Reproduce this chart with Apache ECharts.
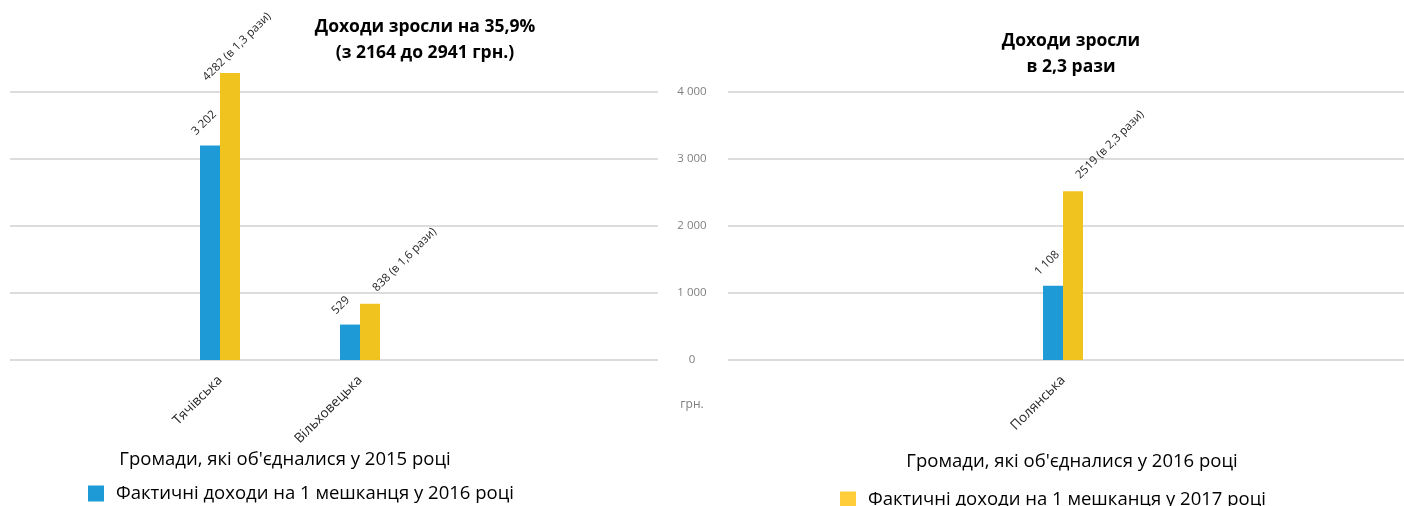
<!DOCTYPE html>
<html>
<head>
<meta charset="utf-8">
<script src="https://cdn.jsdelivr.net/npm/echarts@6/dist/echarts.min.js"></script>
<style>
html,body{margin:0;padding:0;background:#fff;}
#c{width:1404px;height:506px;}
</style>
</head>
<body>
<div id="c"></div>
<script>
// ---- data ----
const leftCategories = ['Тячівська', 'Вільховецька'];
const leftIncome2016 = [3202, 529];
const leftIncome2017 = [4282, 838];
const leftIncome2017Labels = ['4282 (в 1,3 рази)', '838 (в 1,6 рази)'];

const rightCategories = ['Полянська'];
const rightIncome2016 = [1108];
const rightIncome2017 = [2519];
const rightIncome2017Labels = ['2519 (в 2,3 рази)'];

const yTicks = [0, 1000, 2000, 3000, 4000];

const series2016Name = 'Фактичні доходи на 1 мешканця у 2016 році';
const series2017Name = 'Фактичні доходи на 1 мешканця у 2017 році';
const leftTitle = 'Доходи зросли на 35,9%\n(з 2164 до 2941 грн.)';
const rightTitle = 'Доходи зросли\nв 2,3 рази';
const leftAxisTitle = "Громади, які об'єдналися у 2015 році";
const rightAxisTitle = "Громади, які об'єдналися у 2016 році";
const unitLabel = 'грн.';

// ---- style ----
const FONT = 'Open Sans';
const BLUE = '#1E9BD7';
const YELLOW = '#F0C31E';
const YELLOW_LEGEND = '#FFCD3A';
const GRID_COLOR = '#dcdcdc';
const labelNudge = { 'Тячівська': [-11, 10] };

const fmt = v => {
  const s = String(v);
  return s.length > 3 ? s.slice(0, s.length - 3) + ' ' + s.slice(-3) : s;
};

const chart = echarts.init(document.getElementById('c'));

function valueLabel(pos) {
  return {
    show: true, position: pos, rotate: 45, align: 'left', verticalAlign: 'bottom',
    fontFamily: FONT, fontSize: 11.5, color: '#262626'
  };
}

function barData(values, cats, labels) {
  return values.map((v, i) => {
    const item = { value: v };
    const txt = labels ? labels[i] : fmt(v);
    const nudge = labels && labelNudge[cats[i]];
    item.label = { formatter: txt };
    if (nudge) item.label.position = nudge;
    return item;
  });
}

const hiddenY = { type: 'value', min: 0, max: 4000, interval: 1000, show: false };
const catLabel = { rotate: 45, margin: 18, fontFamily: FONT, fontSize: 13.5, color: '#262626' };

const option = {
  animation: false,
  title: [
    { text: leftTitle, left: 420, top: 9, textAlign: 'center',
      textStyle: { fontFamily: FONT, fontSize: 17.5, fontWeight: 'bold', color: '#000', lineHeight: 26 } },
    { text: rightTitle, left: 1066, top: 23, textAlign: 'center',
      textStyle: { fontFamily: FONT, fontSize: 17.5, fontWeight: 'bold', color: '#000', lineHeight: 26 } },
    { text: leftAxisTitle, left: 280, top: 445, textAlign: 'center',
      textStyle: { fontFamily: FONT, fontSize: 18.5, fontWeight: 'normal', color: '#000' } },
    { text: rightAxisTitle, left: 1067, top: 447, textAlign: 'center',
      textStyle: { fontFamily: FONT, fontSize: 18.5, fontWeight: 'normal', color: '#000' } },
    { text: unitLabel, left: 687, top: 394, textAlign: 'center',
      textStyle: { fontFamily: FONT, fontSize: 12, fontWeight: 'normal', color: '#7f7f7f' } }
  ],
  legend: [
    { data: [series2016Name], left: 88, top: 484, padding: 0, itemWidth: 16, itemHeight: 16, icon: 'rect',
      textStyle: { fontFamily: FONT, fontSize: 18.5, color: '#000', padding: [0, 0, 0, 7] } },
    { data: [{ name: series2017Name, itemStyle: { color: YELLOW_LEGEND } }], left: 840, top: 490, padding: 0,
      itemWidth: 16, itemHeight: 16, icon: 'rect',
      textStyle: { fontFamily: FONT, fontSize: 18.5, color: '#000', padding: [0, 0, 0, 7] } }
  ],
  grid: [
    { left: 10, width: 648, top: 92, bottom: 146 },
    { left: 150, width: 280, top: 92, bottom: 146 },
    { left: 728, right: 0, top: 92, bottom: 146 },
    { left: 993, width: 140, top: 92, bottom: 146 }
  ],
  xAxis: [
    { gridIndex: 0, type: 'category', data: [], show: false },
    { gridIndex: 1, type: 'category', data: leftCategories,
      axisLine: { show: false }, axisTick: { show: false }, axisLabel: catLabel },
    { gridIndex: 2, type: 'category', data: [], show: false },
    { gridIndex: 3, type: 'category', data: rightCategories,
      axisLine: { show: false }, axisTick: { show: false }, axisLabel: catLabel }
  ],
  yAxis: [
    { gridIndex: 0, type: 'value', min: yTicks[0], max: yTicks[yTicks.length - 1], interval: 1000,
      axisLine: { show: false }, axisTick: { show: false }, axisLabel: { show: false },
      splitLine: { lineStyle: { color: GRID_COLOR, width: 2 } } },
    Object.assign({ gridIndex: 1 }, hiddenY),
    { gridIndex: 2, type: 'value', min: yTicks[0], max: yTicks[yTicks.length - 1], interval: 1000,
      axisLine: { show: false }, axisTick: { show: false },
      axisLabel: { align: 'center', margin: 36, fontFamily: FONT, fontSize: 11.5, color: '#7f7f7f',
        formatter: v => fmt(v) },
      splitLine: { lineStyle: { color: GRID_COLOR, width: 2 } } },
    Object.assign({ gridIndex: 3 }, hiddenY)
  ],
  series: [
    { type: 'bar', name: series2016Name, xAxisIndex: 1, yAxisIndex: 1, barWidth: 20, barGap: '0%',
      clip: false, itemStyle: { color: BLUE }, label: valueLabel([-2, -8]),
      data: barData(leftIncome2016, leftCategories, null) },
    { type: 'bar', name: series2017Name, xAxisIndex: 1, yAxisIndex: 1, barWidth: 20, barGap: '0%',
      clip: false, itemStyle: { color: YELLOW }, label: valueLabel([19, -10]),
      data: barData(leftIncome2017, leftCategories, leftIncome2017Labels) },
    { type: 'bar', name: series2016Name, xAxisIndex: 3, yAxisIndex: 3, barWidth: 20, barGap: '0%',
      clip: false, itemStyle: { color: BLUE }, label: valueLabel([-2, -8]),
      data: barData(rightIncome2016, rightCategories, null) },
    { type: 'bar', name: series2017Name, xAxisIndex: 3, yAxisIndex: 3, barWidth: 20, barGap: '0%',
      clip: false, itemStyle: { color: YELLOW }, label: valueLabel([19, -10]),
      data: barData(rightIncome2017, rightCategories, rightIncome2017Labels) }
  ]
};
chart.setOption(option);
</script>
</body>
</html>
